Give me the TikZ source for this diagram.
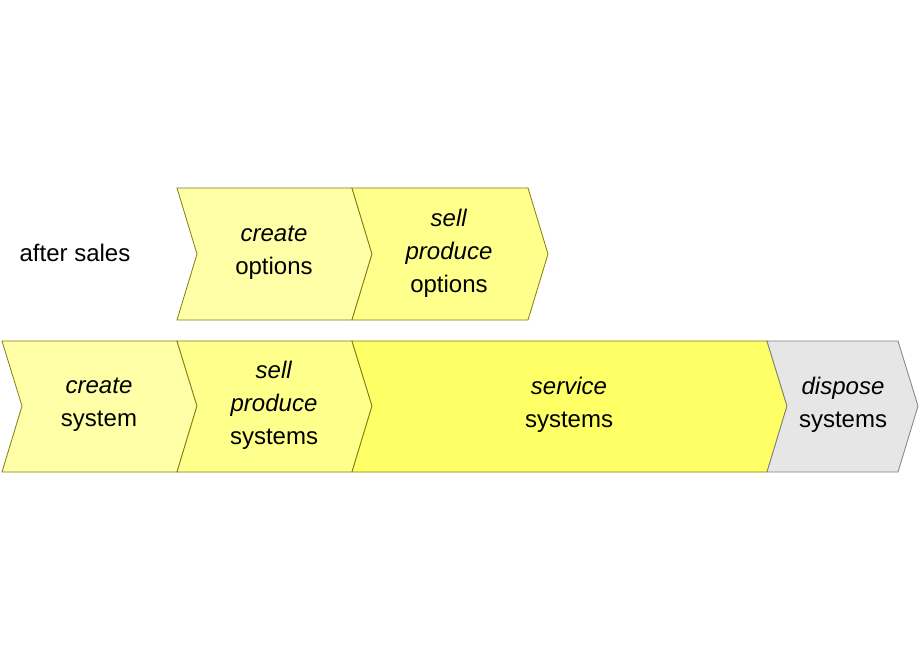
\documentclass[tikz,border=0pt]{standalone}
\usepackage{fontspec}
\setmainfont{Liberation Sans}
\begin{document}
\begin{tikzpicture}[x=1pt,y=-1pt,
  lbl/.style={font=\fontsize{24}{33}\selectfont,align=center,inner sep=0},
  ch/.style={draw=olive!90!black,line width=0.8pt}]
\useasboundingbox (0,0) rectangle (920,660);
\definecolor{c1}{HTML}{FFFFA8}
\definecolor{c2}{HTML}{FFFF8C}
\definecolor{c3}{HTML}{FFFF66}
\definecolor{c4}{HTML}{E6E6E6}
% top row
\filldraw[ch,fill=c1] (177,188) -- (352,188) -- (372,254) -- (352,320) -- (177,320) -- (197,254) -- cycle;
\filldraw[ch,fill=c2] (352,188) -- (528,188) -- (548,254) -- (528,320) -- (352,320) -- (372,254) -- cycle;
% bottom row
\filldraw[ch,fill=c1] (2,341) -- (177,341) -- (197,406) -- (177,472) -- (2,472) -- (22,406) -- cycle;
\filldraw[ch,fill=c2] (177,341) -- (352,341) -- (372,406) -- (352,472) -- (177,472) -- (197,406) -- cycle;
\filldraw[ch,fill=c3] (352,341) -- (767,341) -- (787,406) -- (767,472) -- (352,472) -- (372,406) -- cycle;
\filldraw[draw=gray,line width=0.8pt,fill=c4] (767,341) -- (898,341) -- (918,406) -- (898,472) -- (767,472) -- (787,406) -- cycle;
\node[lbl] (as) at (75,253) {after sales};
\node[lbl] (co) at (274,253) {\textit{create}\\options};
\node[lbl] (so) at (449,253) {\textit{sell}\\\textit{produce}\\options};
\node[lbl] (cs) at (99,405) {\textit{create}\\system};
\node[lbl] (ss) at (274,405) {\textit{sell}\\\textit{produce}\\systems};
\node[lbl] (sv) at (569,405) {\textit{service}\\systems};
\node[lbl] (ds) at (843,405) {\textit{dispose}\\systems};
\end{tikzpicture}
\end{document}
